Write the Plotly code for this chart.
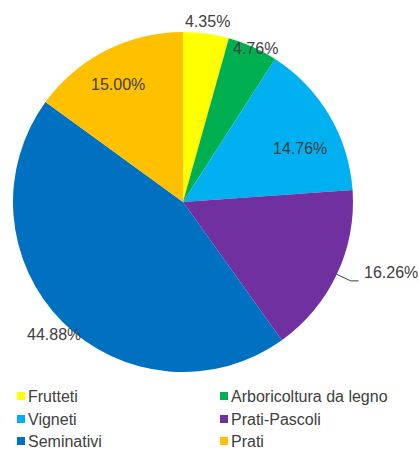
import math
import plotly.graph_objects as go

# Land use shares (%)
categories = ["Frutteti", "Arboricoltura da legno", "Vigneti",
              "Prati-Pascoli", "Seminativi", "Prati"]
shares = [4.35, 4.76, 14.76, 16.26, 44.88, 15.00]
colors = ["#FFFF00", "#00B050", "#00B0F0", "#7030A0", "#0070C0", "#FFC000"]

# label placement: radius factor from pie centre (1 = rim) and angular nudge (deg)
label_radius = [1.07, 1.0, 0.76, None, 1.09, 0.79]
label_nudge = [0, 1, 6, 0, -1, -2]
leader_slice = 3  # slice whose label sits outside with a leader line

W, H = 419, 452
CX, CY, R = 183, 202, 170  # pie centre and radius in pixels
FONT = "Liberation Sans, Arial, sans-serif"
TXT = "#404040"


def px(x):
    return x / W


def py(y):
    return 1 - y / H


fig = go.Figure(go.Pie(
    labels=categories,
    values=shares,
    marker=dict(colors=colors, line=dict(width=0)),
    sort=False,
    direction="clockwise",
    rotation=0,
    textinfo="none",
    hoverinfo="label+percent",
    showlegend=False,
    domain=dict(x=[px(CX - R), px(CX + R)], y=[py(CY + R), py(CY - R)]),
))

annotations = []
shapes = []
total = sum(shares)
cum = 0.0
for i, v in enumerate(shares):
    mid = (cum + v / 2) / total * 2 * math.pi
    cum += v
    text = f"{v:.2f}%"
    if i == leader_slice:
        sx, sy = math.sin(mid), -math.cos(mid)
        x0, y0 = CX + R * sx, CY + R * sy
        x1, y1 = CX + 1.09 * R * sx, CY + 1.09 * R * sy
        x2 = x1 + 8
        shapes.append(dict(
            type="path", xref="paper", yref="paper",
            path=f"M {px(x0)},{py(y0)} L {px(x1)},{py(y1)} L {px(x2)},{py(y1)}",
            line=dict(color="#404040", width=1)))
        annotations.append(dict(
            x=px(x2 + 3), y=py(y1 - 8), xref="paper", yref="paper",
            text=text, showarrow=False, xanchor="left", yanchor="middle",
            font=dict(family=FONT, size=16, color=TXT)))
    else:
        a = mid + math.radians(label_nudge[i])
        sx, sy = math.sin(a), -math.cos(a)
        rr = label_radius[i] * R
        annotations.append(dict(
            x=px(CX + rr * sx), y=py(CY + rr * sy), xref="paper", yref="paper",
            text=text, showarrow=False, xanchor="center", yanchor="middle",
            font=dict(family=FONT, size=16, color=TXT)))

# two-column legend below the pie
col_x = [17, 220]
row_y = [396, 419, 441]
for i, (name, c) in enumerate(zip(categories, colors)):
    cx = col_x[i % 2]
    cy = row_y[i // 2]
    shapes.append(dict(
        type="rect", xref="paper", yref="paper",
        x0=px(cx), x1=px(cx + 8), y0=py(cy + 4), y1=py(cy - 4),
        fillcolor=c, line=dict(width=0)))
    annotations.append(dict(
        x=px(cx + 9), y=py(cy), xref="paper", yref="paper",
        text=name, showarrow=False, xanchor="left", yanchor="middle",
        font=dict(family=FONT, size=16, color=TXT)))

fig.update_layout(
    width=W, height=H,
    margin=dict(l=0, r=0, t=0, b=0),
    paper_bgcolor="white",
    plot_bgcolor="white",
    annotations=annotations,
    shapes=shapes,
)

fig.write_html("out.html")
